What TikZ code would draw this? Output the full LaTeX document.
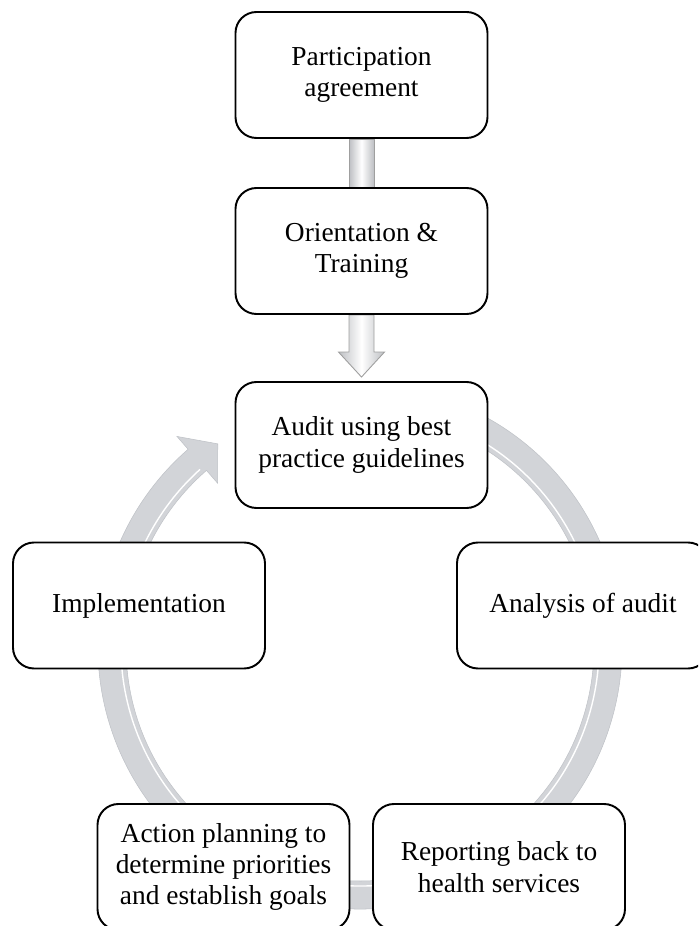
\documentclass[tikz,border=0pt]{standalone}
\usepackage{fontspec}
\setmainfont{Liberation Serif}
\usetikzlibrary{arrows.meta, calc, positioning, backgrounds}
\definecolor{ringgray}{HTML}{D2D4D8}
\definecolor{ringedge}{HTML}{BFC2C7}
\definecolor{barshade}{HTML}{BDBFC3}
\tikzset{
  stepbox/.style  = {draw=black, fill=white, line width=1.1pt, rounded corners=0.42cm,
                     minimum width=5.04cm, minimum height=2.52cm, align=center,
                     font=\fontsize{15.6}{17.8}\selectfont, inner sep=2pt},
  ringfill/.style = {fill=ringgray, draw=ringedge, line width=0.3pt},
  blockbar/.style = {left color=barshade, right color=barshade, middle color=white,
                     draw=gray!75, line width=0.5pt},
}
\begin{document}
\begin{tikzpicture}[x=1cm, y=1cm]
  \useasboundingbox (0,0) rectangle (13.96,18.52);
  \clip (0,0) rectangle (13.96,18.52);
  \coordinate (O) at (7.2,5.58);
  % cycle ring with its head
  \filldraw[ringfill] ($(O)+(75:5.24)$) arc[start angle=75, end angle=-229, radius=5.24]
    -- ($(O)+(-229:5.58)$) -- ($(O)+(-235:4.96)$) -- ($(O)+(-229:4.34)$)
    -- ($(O)+(-229:4.68)$) arc[start angle=-229, end angle=75, radius=4.68] -- cycle;
  \draw[white, line width=0.8pt] ($(O)+(75:4.78)$) arc[start angle=75, end angle=-228, radius=4.78];
  \node[stepbox] (part) at (7.23,17.02) {Participation\\agreement};
  \node[stepbox] (orient) at (7.23,13.50) {Orientation \&\\Training};
  \node[stepbox] (audit) at (7.23,9.62) {Audit using best\\practice guidelines};
  \node[stepbox] (analysis) at (11.66,6.41) {Analysis of audit};
  \node[stepbox] (report) at (9.98,1.18) {Reporting back to\\health services};
  \node[stepbox] (action) at (4.47,1.18) {Action planning to\\determine priorities\\and establish goals};
  \node[stepbox] (implement) at (2.78,6.41) {Implementation};
  \begin{scope}[on background layer]
    \shadedraw[blockbar] ([xshift=-0.25cm]part.south) rectangle ([xshift=0.25cm]orient.north);
    \shadedraw[blockbar] ([xshift=-0.25cm]orient.south) -- ([xshift=-0.25cm, yshift=0.58cm]audit.north)
      -- ([xshift=-0.46cm, yshift=0.58cm]audit.north) -- ([yshift=0.08cm]audit.north)
      -- ([xshift=0.46cm, yshift=0.58cm]audit.north) -- ([xshift=0.25cm, yshift=0.58cm]audit.north)
      -- ([xshift=0.25cm]orient.south) -- cycle;
  \end{scope}
\end{tikzpicture}
\end{document}
